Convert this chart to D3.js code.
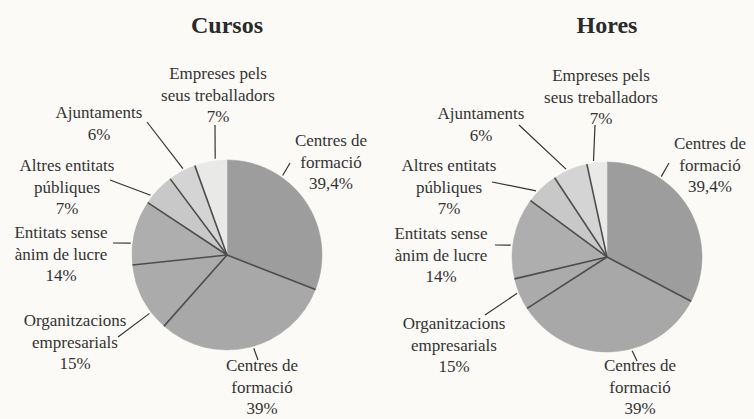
<html>
<head>
    <meta charset="utf-8">
    <script src="https://d3js.org/d3.v7.min.js"></script>
    <style>
        body {
            margin: 0;
            background-color: #fbfaf6;
        }
        svg { display: block; }
        .leader { stroke: #333; stroke-width: 1.2; fill: none; }
        .sep { stroke: #4d4d4d; stroke-width: 1.6; }
    </style>
</head>
<body>
    <svg id="chart" width="754" height="419"></svg>

    <script>
        // categories, clockwise from 12 o'clock (label lines)
        const categories = [
            ["Centres de", "formació"],
            ["Centres de", "formació"],
            ["Organitzacions", "empresarials"],
            ["Entitats sense", "ànim de lucre"],
            ["Altres entitats", "públiques"],
            ["Ajuntaments"],
            ["Empreses pels", "seus treballadors"]
        ];
        // percentages printed next to each slice (same text on both pies)
        const labelPercents = ["39,4%", "39%", "15%", "14%", "7%", "6%", "7%"];

        // slice sizes
        const cursosValues = [39.4, 39, 15, 14, 7, 6, 7];
        const horesValues = [32.7, 33.2, 5.4, 13.8, 5.6, 5.9, 3.4];

        const sliceColors = ["#9d9d9d", "#a8a8a8", "#ababab", "#aeaeae", "#c8c8c8", "#d4d4d4", "#e9e9e7"];

        const svg = d3.select("#chart");
        const radius = 95;
        const lineH = 21.5;

        // label placement relative to pie centre: text centre x, first line y,
        // leader outer end (lx, ly), and angle (deg) where leader meets the pie
        const layouts = {
            cursos: {
                cx: 227, cy: 255, title: "Cursos", values: cursosValues,
                labels: [
                    { x: 104, y: -115, lx: 63, ly: -92, a: 35 },
                    { x: 35, y: 110, lx: 31, ly: 105, a: 164 },
                    { x: -152, y: 65, lx: -109, ly: 82, a: 233 },
                    { x: -166, y: -23, lx: -114, ly: -12, a: 277 },
                    { x: -160, y: -90, lx: -117, ly: -75, a: 308 },
                    { x: -128, y: -143, lx: -80, ly: -133, a: 333 },
                    { x: -9, y: -182, lx: -12, ly: -130, a: 353 }
                ]
            },
            hores: {
                cx: 607, cy: 257, title: "Hores", values: horesValues,
                labels: [
                    { x: 103, y: -114, lx: 62, ly: -94, a: 34 },
                    { x: 33, y: 108, lx: 30, ly: 104, a: 165 },
                    { x: -153, y: 66, lx: -122, ly: 58, a: 248 },
                    { x: -166, y: -24, lx: -112, ly: -12, a: 277 },
                    { x: -158, y: -92, lx: -115, ly: -75, a: 313 },
                    { x: -126, y: -144, lx: -88, ly: -132, a: 335 },
                    { x: -6, y: -182, lx: -12, ly: -132, a: 352 }
                ]
            }
        };

        const pie = d3.pie().sort(null).value(d => d);
        const arc = d3.arc().innerRadius(0).outerRadius(radius);

        function drawPie(cfg) {
            const arcs = pie(cfg.values);

            const g = svg.append("g")
                .attr("transform", "translate(" + cfg.cx + "," + cfg.cy + ")");

            g.selectAll("path")
                .data(arcs)
                .enter()
                .append("path")
                .attr("d", arc)
                .attr("fill", (d, i) => sliceColors[i])
                .attr("stroke", (d, i) => sliceColors[i])
                .attr("stroke-width", 0.5);

            // separator lines (no line at 12 o'clock)
            g.selectAll(".sep")
                .data(arcs.slice(1))
                .enter()
                .append("line")
                .attr("class", "sep")
                .attr("x1", 0).attr("y1", 0)
                .attr("x2", d => d3.pointRadial(d.startAngle, radius)[0])
                .attr("y2", d => d3.pointRadial(d.startAngle, radius)[1]);

            // leaders
            g.selectAll(".leader")
                .data(cfg.labels)
                .enter()
                .append("line")
                .attr("class", "leader")
                .attr("x1", d => d.lx).attr("y1", d => d.ly)
                .attr("x2", d => d3.pointRadial(d.a * Math.PI / 180, radius + 2)[0])
                .attr("y2", d => d3.pointRadial(d.a * Math.PI / 180, radius + 2)[1]);
        }

        function drawText(cfg) {
            svg.append("text")
                .attr("x", cfg.cx)
                .attr("y", 33)
                .attr("text-anchor", "middle")
                .attr("font-family", "Liberation Serif")
                .attr("font-size", 24)
                .attr("font-weight", "bold")
                .attr("fill", "#2a2a2a")
                .text(cfg.title);

            // labels, one text element per line
            cfg.labels.forEach((l, i) => {
                const lines = categories[i].concat([labelPercents[i]]);
                lines.forEach((s, k) => {
                    svg.append("text")
                        .attr("x", cfg.cx + l.x)
                        .attr("y", cfg.cy + l.y + k * lineH + 6)
                        .attr("text-anchor", "middle")
                        .attr("font-family", "Liberation Serif")
                        .attr("font-weight", "normal")
                        .attr("font-size", 17)
                        .attr("fill", "#333")
                        .text(s);
                });
            });
        }

        drawPie(layouts.cursos);
        drawPie(layouts.hores);
        drawText(layouts.cursos);
        drawText(layouts.hores);
    </script>
</body>
</html>
